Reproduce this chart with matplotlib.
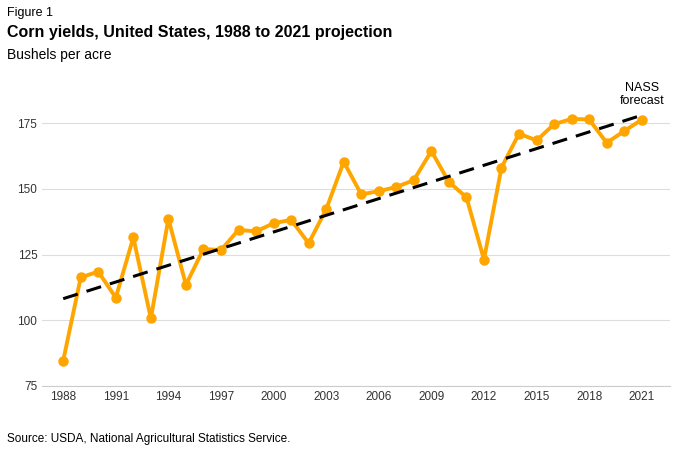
import matplotlib.pyplot as plt

years = list(range(1988, 2022))
yields = [84.6, 116.3, 118.5, 108.6, 131.5, 100.7, 138.6, 113.5, 127.1, 126.7,
          134.4, 133.8, 136.9, 138.2, 129.3, 142.2, 160.3, 147.9, 149.1, 150.7,
          153.3, 164.4, 152.6, 146.8, 123.1, 158.1, 171.0, 168.4, 174.6, 176.6,
          176.4, 167.5, 172.0, 176.3]
trend_years = [1988, 2021]
trend_vals = [108.2, 178.0]
xticks = list(range(1988, 2022, 3))
yticks = [75, 100, 125, 150, 175]

plt.rcParams['font.family'] = ['Liberation Sans', 'DejaVu Sans']
fig = plt.figure(figsize=(6.8, 4.53), dpi=100)
ax = fig.add_axes([0.062, 0.148, 0.923, 0.644])

ax.plot(years, yields, color="#ffa500", linewidth=2.8, marker="o", markersize=6.5, zorder=2)
ax.plot(trend_years, trend_vals, linestyle="--", color="black", linewidth=2.2, dashes=(5, 3), zorder=3)

ax.set_xlim(1986.8, 2022.6)
ax.set_ylim(75, 186)
ax.set_xticks(xticks)
ax.set_yticks(yticks)
ax.tick_params(length=0, labelsize=8.5, colors="#333333")
ax.grid(axis="y", color="#dddddd", linewidth=0.8)
for s in ["top", "right", "left"]:
    ax.spines[s].set_visible(False)
ax.spines["bottom"].set_color("#cccccc")

ax.text(2021, 181, "NASS\nforecast", ha="center", va="bottom", fontsize=9)

fig.text(0.01, 0.985, "Figure 1", fontsize=9, va="top")
fig.text(0.01, 0.945, "Corn yields, United States, 1988 to 2021 projection", fontsize=11.5,
         fontweight="bold", va="top")
fig.text(0.01, 0.895, "Bushels per acre", fontsize=10, va="top")
fig.text(0.01, 0.025, "Source: USDA, National Agricultural Statistics Service.", fontsize=8.5)

fig.savefig("out.png", dpi=100)
